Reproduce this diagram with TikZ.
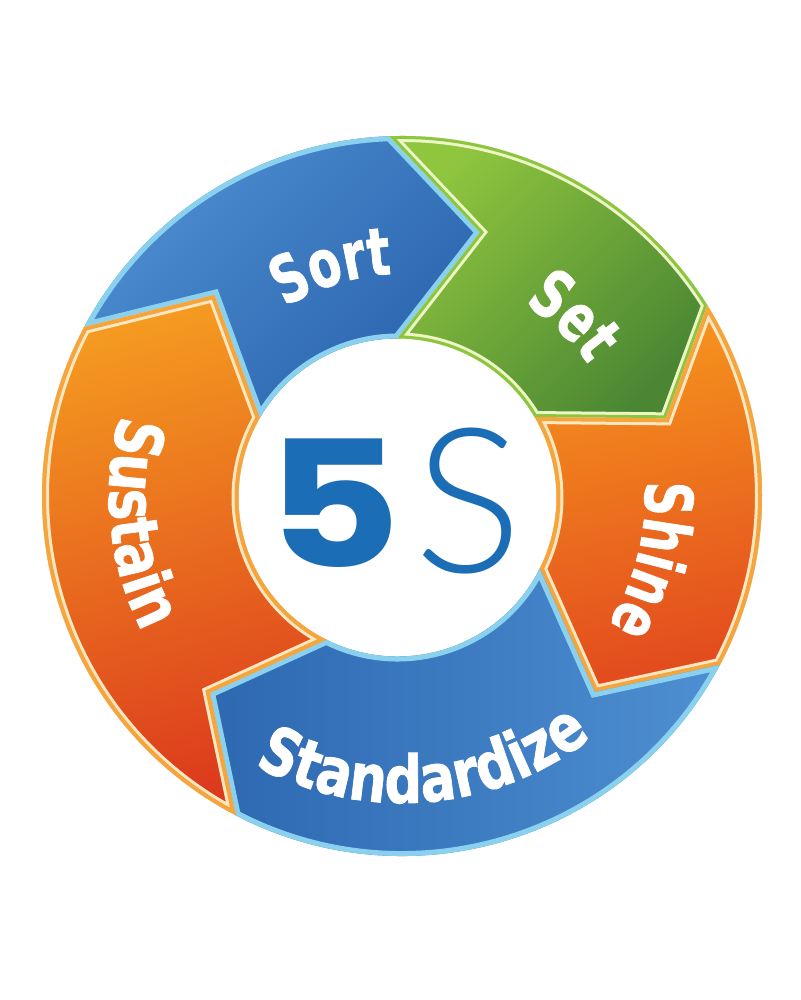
\documentclass[tikz,border=0pt]{standalone}
\usepackage{fontspec}
\usetikzlibrary{decorations.text}
\newfontfamily\labfont{DejaVu Sans}[FakeStretch=0.8, BoldFeatures={FakeBold=1}]
\newfontfamily\labfontc{DejaVu Sans}[FakeStretch=0.72, BoldFeatures={FakeBold=1}]
\newfontfamily\fivefont{Poppins}[FakeStretch=1.18]
\newfontfamily\sfont{Lato Light}
\definecolor{blueL}{HTML}{4D8ED0}
\definecolor{blueD}{HTML}{2A63AD}
\definecolor{stdL}{HTML}{2D68B1}
\definecolor{stdR}{HTML}{4E8FD1}
\definecolor{greenL}{HTML}{90C63E}
\definecolor{greenD}{HTML}{4B8733}
\definecolor{shineT}{HTML}{F6961D}
\definecolor{shineB}{HTML}{E2491E}
\definecolor{sustT}{HTML}{F49A20}
\definecolor{sustB}{HTML}{DC3A1D}
\definecolor{blueEdge}{HTML}{89D1EF}
\definecolor{greenEdge}{HTML}{8CC63F}
\definecolor{greenPale}{HTML}{EEF6C8}
\definecolor{orangeEdge}{HTML}{F5A53D}
\definecolor{cream}{HTML}{FDE8C2}
\definecolor{fiveblue}{HTML}{1B6DB6}
% segment: #1 outer start, #2 outer end, #3 tail apex, #4 head apex, #5 inner start, #6 inner end
\newcommand{\ringseg}[6]{([shift={(#1:360)}]O) arc[start angle=#1, end angle=#2, radius=360] -- ([shift={(#4:275)}]O) -- ([shift={(#6:159)}]I) arc[start angle=#6, end angle=#5, radius=159] -- ([shift={(#3:275)}]O) -- cycle}
\tikzset{
  blueborder/.style={draw=blueEdge, line width=5pt},
  greenpale/.style={draw=greenPale, line width=6pt},
  greenborder/.style={draw=greenEdge, line width=3pt},
  orangepale/.style={draw=cream, line width=7pt},
  orangeborder/.style={draw=orangeEdge, line width=4pt},
  labelpath/.style 2 args={decorate, decoration={text along path, text align=center, text={|#1\bfseries\fontsize{33}{33}\selectfont\color{white}|#2}}}
}
\begin{document}
\begin{tikzpicture}[x=0.5pt, y=0.5pt]
\fill[white] (0,0) rectangle (800,1000);
\useasboundingbox (0,0) rectangle (800,1000);
\coordinate (O) at (402,504);
\coordinate (I) at (397.5,502.5);
% Sort
\begin{scope}
\clip \ringseg{152}{92}{133}{73.5}{150}{90};
\shade[top color=blueL, bottom color=blueD, shading angle=45] \ringseg{152}{92}{133}{73.5}{150}{90};
\draw[blueborder] \ringseg{152}{92}{133}{73.5}{150}{90};
\end{scope}
% Set
\begin{scope}
\clip \ringseg{92}{32}{73.5}{16.4}{90}{30.4};
\shade[top color=greenL, bottom color=greenD, shading angle=45] \ringseg{92}{32}{73.5}{16.4}{90}{30.4};
\draw[greenpale] \ringseg{92}{32}{73.5}{16.4}{90}{30.4};
\draw[greenborder] \ringseg{92}{32}{73.5}{16.4}{90}{30.4};
\end{scope}
% Shine
\begin{scope}
\clip \ringseg{32}{-28}{16.4}{-45.5}{30.4}{-26.6};
\shade[top color=shineT, bottom color=shineB, shading angle=12] \ringseg{32}{-28}{16.4}{-45.5}{30.4}{-26.6};
\draw[orangepale] \ringseg{32}{-28}{16.4}{-45.5}{30.4}{-26.6};
\draw[orangeborder] \ringseg{32}{-28}{16.4}{-45.5}{30.4}{-26.6};
\end{scope}
% Standardize
\begin{scope}
\clip \ringseg{-28}{-117.5}{-45.5}{-134.3}{-26.6}{-116.6};
\shade[left color=stdL, right color=stdR] \ringseg{-28}{-117.5}{-45.5}{-134.3}{-26.6}{-116.6};
\draw[blueborder] \ringseg{-28}{-117.5}{-45.5}{-134.3}{-26.6}{-116.6};
\end{scope}
% Sustain
\begin{scope}
\clip \ringseg{242.5}{152}{225.7}{133}{243.4}{150};
\shade[top color=sustT, bottom color=sustB, shading angle=15] \ringseg{242.5}{152}{225.7}{133}{243.4}{150};
\draw[orangepale] \ringseg{242.5}{152}{225.7}{133}{243.4}{150};
\draw[orangeborder] \ringseg{242.5}{152}{225.7}{133}{243.4}{150};
\end{scope}
% labels
\path[labelpath={\labfontc}{Sort}] ([shift={(147.2:222)}]O) arc[start angle=147.2, end angle=67.2, radius=222];
\path[labelpath={\labfontc}{Set}] ([shift={(86.4:228)}]O) arc[start angle=86.4, end angle=6.4, radius=228];
\path[labelpath={\labfontc}{Shine}] ([shift={(25.7:243)}]O) arc[start angle=25.7, end angle=-54.3, radius=243];
\path[labelpath={\labfont}{Standardize}] ([shift={(-130.3:307)}]O) arc[start angle=-130.3, end angle=-40.3, radius=307];
\path[labelpath={\labfont}{Sustain}] ([shift={(145.8:293)}]O) arc[start angle=145.8, end angle=225.8, radius=293];
% center
\node[text=fiveblue, inner sep=0] (five) at (334,496.5) {\fivefont\bfseries\fontsize{88}{88}\selectfont 5};
\node[text=fiveblue, inner sep=0] (ess) at (468.5,499) {\sfont\fontsize{101}{101}\selectfont S};
\end{tikzpicture}
\end{document}
